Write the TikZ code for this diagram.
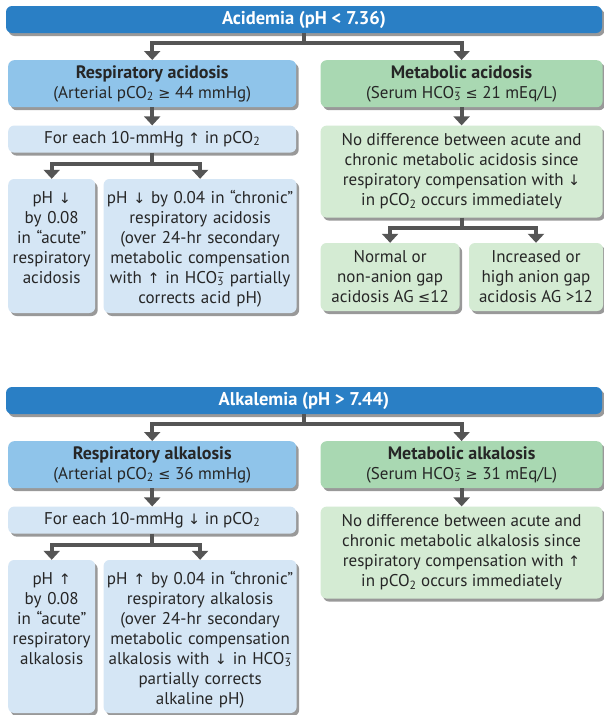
\documentclass[tikz,border=0pt]{standalone}
\usepackage{fontspec}
\setmainfont{PT Sans}
\newfontfamily\symbfont{DejaVu Sans}[Scale=0.85]
\usepackage{xcolor}
\definecolor{barblue}{HTML}{2A7FC5}
\definecolor{respblue}{HTML}{8FC4EA}
\definecolor{metagreen}{HTML}{A9D8B2}
\definecolor{paleblue}{HTML}{D5E6F5}
\definecolor{palegreen}{HTML}{D4EBD3}
\definecolor{arrowgray}{HTML}{555555}
\definecolor{textgray}{HTML}{262626}
\usepackage{tikz}
\usetikzlibrary{arrows.meta, positioning, shadows}
\newcommand{\pco}{pCO\textsubscript{2}}
\newcommand{\bicarb}{HCO\rlap{\textsuperscript{--}}\textsubscript{3}}
\newcommand{\uparr}{{\symbfont ↑}}
\newcommand{\dnarr}{{\symbfont ↓}}
\newcommand{\geqs}{{\symbfont ≥}}
\newcommand{\leqs}{{\symbfont ≤}}
\newcommand{\headline}[1]{{\bfseries\fontsize{18}{20}\selectfont #1}}
\tikzstyle{boxbase} = [
  rectangle, rounded corners=6pt, align=center, text=textgray,
  font=\fontsize{17}{20}\selectfont,
  drop shadow={shadow xshift=2.5pt, shadow yshift=-3pt, fill=black, opacity=0.4}
]
\tikzstyle{titlebar} = [
  boxbase, fill=barblue, text=white, font=\bfseries\fontsize{18.5}{20}\selectfont,
  minimum width=596pt, minimum height=27pt, inner sep=0pt
]
\tikzstyle{mainresp} = [
  boxbase, fill=respblue, minimum width=288pt, minimum height=47pt, inner sep=2pt
]
\tikzstyle{mainmeta} = [
  boxbase, fill=metagreen, minimum width=282pt, minimum height=47pt, inner sep=2pt
]
\tikzstyle{respstep} = [boxbase, fill=paleblue, inner sep=2pt]
\tikzstyle{metastep} = [boxbase, fill=palegreen, inner sep=2pt]
\tikzstyle{tallbox} = [
  respstep, inner xsep=0.5pt, inner ysep=9pt, text height=15pt
]
\tikzstyle{arrow} = [
  -{Triangle[width=16pt, length=9pt]}, line width=4pt, draw=arrowgray, line join=miter
]

\begin{document}
\begin{tikzpicture}[x=1pt, y=1pt]

  \useasboundingbox[fill=white] (0,0) rectangle (603,-715);

  % ── Acidemia ──────────────────────────────────────────
  \node[titlebar] (acidemia) at (304,-19.5) {Acidemia (pH < 7.36)};

  \node[mainresp, anchor=north west] (respacid) at (8,-60)
    {\headline{Respiratory acidosis}\\(Arterial \pco\ \geqs\ 44 mmHg)};
  \node[mainmeta, right=24pt of respacid]
    (metaacid) {\headline{Metabolic acidosis}\\(Serum \bicarb\ \leqs\ 21 mEq/L)};

  \node[respstep, minimum width=288pt, minimum height=27pt, below=18pt of respacid]
    (acidstep) {For each 10-mmHg \uparr\ in \pco};
  \node[metastep, minimum width=282pt, minimum height=92pt, below=18pt of metaacid]
    (acidmeta) {No difference between acute and\\chronic metabolic acidosis since\\respiratory compensation with \dnarr\\in \pco\ occurs immediately};

  \node[tallbox, text width=86pt, text depth=101pt,
        below=26pt of acidstep.south west, anchor=north west]
    (acuteacid) {pH \dnarr\\by 0.08\\in “acute”\\respiratory\\acidosis};
  \node[tallbox, text width=192pt, text depth=101pt, right=8pt of acuteacid]
    (chronacid) {pH \dnarr\ by 0.04 in “chronic”\\respiratory acidosis\\(over 24-hr secondary\\metabolic compensation\\with \uparr\ in \bicarb\ partially\\corrects acid pH)};

  \node[metastep, minimum width=139pt, minimum height=68pt,
        below=25pt of acidmeta.south west, anchor=north west]
    (normalgap) {Normal or\\non-anion gap\\acidosis AG \leqs12};
  \node[metastep, minimum width=134pt, minimum height=68pt, right=9pt of normalgap]
    (highgap) {Increased or\\high anion gap\\acidosis AG >12};

  % ── Alkalemia ─────────────────────────────────────────
  \node[titlebar] (alkalemia) at (304,-400.5) {Alkalemia (pH > 7.44)};

  \node[mainresp, anchor=north west] (respalk) at (8,-441)
    {\headline{Respiratory alkalosis}\\(Arterial \pco\ \leqs\ 36 mmHg)};
  \node[mainmeta, right=24pt of respalk]
    (metaalk) {\headline{Metabolic alkalosis}\\(Serum \bicarb\ \geqs\ 31 mEq/L)};

  \node[respstep, minimum width=288pt, minimum height=27pt, below=18pt of respalk]
    (alkstep) {For each 10-mmHg \dnarr\ in \pco};
  \node[metastep, minimum width=282pt, minimum height=92pt, below=18pt of metaalk]
    (alkmeta) {No difference between acute and\\chronic metabolic alkalosis since\\respiratory compensation with \uparr\\in \pco\ occurs immediately};

  \node[tallbox, text width=86pt, text depth=120pt,
        below=26pt of alkstep.south west, anchor=north west]
    (acutealk) {pH \uparr\\by 0.08\\in “acute”\\respiratory\\alkalosis};
  \node[tallbox, text width=192pt, text depth=120pt, right=8pt of acutealk]
    (chronalk) {pH \uparr\ by 0.04 in “chronic”\\respiratory alkalosis\\(over 24-hr secondary\\metabolic compensation\\alkalosis with \dnarr\ in \bicarb\\partially corrects\\alkaline pH)};

  % ── Arrows ────────────────────────────────────────────
  \draw[arrow] (acidemia.south) -- ++(0,-10) -| (respacid.north);
  \draw[arrow] (acidemia.south) -- ++(0,-10) -| (metaacid.north);
  \draw[arrow] (respacid) -- (acidstep);
  \draw[arrow] (metaacid) -- (acidmeta);
  \draw[arrow] (acidstep.south) -- ++(0,-11) -| (acuteacid.north);
  \draw[arrow] (acidstep.south) -- ++(0,-11) -| (chronacid.north);
  \draw[arrow] (acidmeta.south) -- ++(0,-10) -| (normalgap.north);
  \draw[arrow] (acidmeta.south) -- ++(0,-10) -| (highgap.north);

  \draw[arrow] (alkalemia.south) -- ++(0,-10) -| (respalk.north);
  \draw[arrow] (alkalemia.south) -- ++(0,-10) -| (metaalk.north);
  \draw[arrow] (respalk) -- (alkstep);
  \draw[arrow] (metaalk) -- (alkmeta);
  \draw[arrow] (alkstep.south) -- ++(0,-11) -| (acutealk.north);
  \draw[arrow] (alkstep.south) -- ++(0,-11) -| (chronalk.north);

\end{tikzpicture}
\end{document}
